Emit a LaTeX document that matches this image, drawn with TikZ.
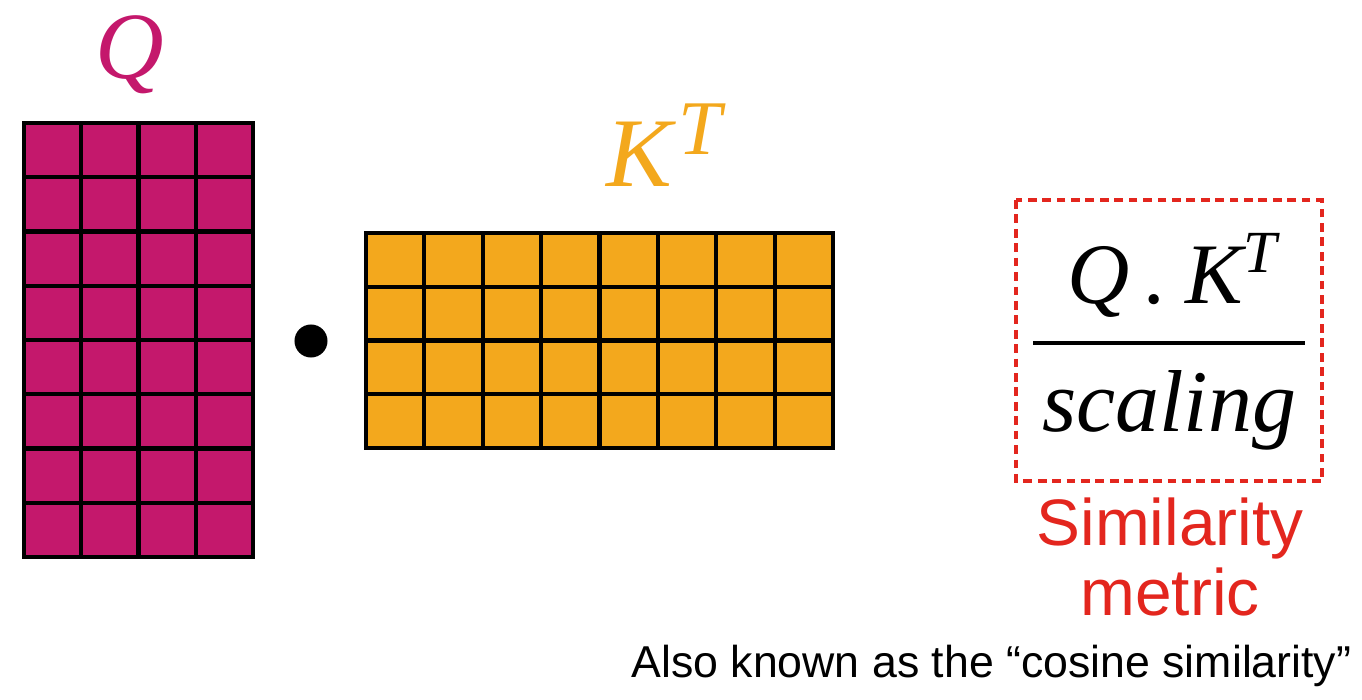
\documentclass[tikz,border=0pt]{standalone}
\usepackage{fontspec}
\setmainfont{Liberation Serif}
\setsansfont{Liberation Sans}

\definecolor{qpink}{RGB}{196,24,108}
\definecolor{korange}{RGB}{243,168,29}
\definecolor{simred}{RGB}{227,38,30}

\tikzset{
  gridline/.style={line width=1.2pt, black, line cap=rect},
  mathlabel/.style={inner sep=0pt, font=\itshape},
  sanslabel/.style={inner sep=0pt, font=\sffamily},
}

\begin{document}
\begin{tikzpicture}[x=0.01cm, y=-0.01cm]
\useasboundingbox (0,0) rectangle (1362,700);

% =====================================================================
% Q matrix  (8 rows x 4 columns)
% =====================================================================
\fill[qpink] (24,123) rectangle (253,557);
\foreach \c in {0,...,4}{
  \pgfmathsetmacro{\xq}{24+\c*57.25}
  \draw[gridline] (\xq,123) -- (\xq,557);
}
\foreach \r in {0,...,8}{
  \pgfmathsetmacro{\yq}{123+\r*54.25}
  \draw[gridline] (24,\yq) -- (253,\yq);
}
\node[mathlabel, anchor=base, text=qpink, font=\fontsize{27}{27}\selectfont\itshape]
  (qlabel) at (130,78) {Q};

% =====================================================================
% Dot product sign
% =====================================================================
\fill[black] (311,341) circle[radius=0.165cm];

% =====================================================================
% K^T matrix  (4 rows x 8 columns)
% =====================================================================
\fill[korange] (366,233) rectangle (833,448);
\foreach \c in {0,...,8}{
  \pgfmathsetmacro{\xk}{366+\c*58.375}
  \draw[gridline] (\xk,233) -- (\xk,448);
}
\foreach \r in {0,...,4}{
  \pgfmathsetmacro{\yk}{233+\r*53.75}
  \draw[gridline] (366,\yk) -- (833,\yk);
}
\node[mathlabel, anchor=base west, text=korange, font=\fontsize{28}{28}\selectfont\itshape]
  (klabel) at (606,186)
  {K\hspace{0.06em}\raisebox{9pt}{\fontsize{22}{22}\selectfont T}};

% =====================================================================
% Scaled similarity fraction in a dashed frame
% =====================================================================
\draw[simred, line width=1.35pt, dash pattern=on 2.5pt off 1.6pt]
  (1016,200) rectangle (1322,481);

\node[mathlabel, anchor=base, font=\fontsize{24.5}{24.5}\selectfont\itshape]
  (fracnum) at (1172,304)
  {Q\hspace{0.18em}.\hspace{0.22em}K\raisebox{9pt}{\fontsize{17}{17}\selectfont T}};
\coordinate (barleft) at (1033,343);
\coordinate (barright) at (1305,343);
\draw[line width=1.2pt] (barleft) -- (barright);
\node[mathlabel, anchor=base, font=\fontsize{25}{25}\selectfont\itshape]
  (fracden) at (1169,432) {scaling};

% =====================================================================
% Captions
% =====================================================================
\node[sanslabel, anchor=base, text=simred, font=\fontsize{18.7}{18.7}\selectfont\sffamily]
  (simlabel) at (1170,545) {Similarity};
\node[sanslabel, anchor=base, text=simred, font=\fontsize{18.7}{18.7}\selectfont\sffamily]
  (metlabel) at (1170,615) {metric};
\node[sanslabel, anchor=base east, font=\fontsize{12.7}{12.7}\selectfont\sffamily]
  (note) at (1352,678) {Also known as the “cosine similarity”};

\end{tikzpicture}
\end{document}
